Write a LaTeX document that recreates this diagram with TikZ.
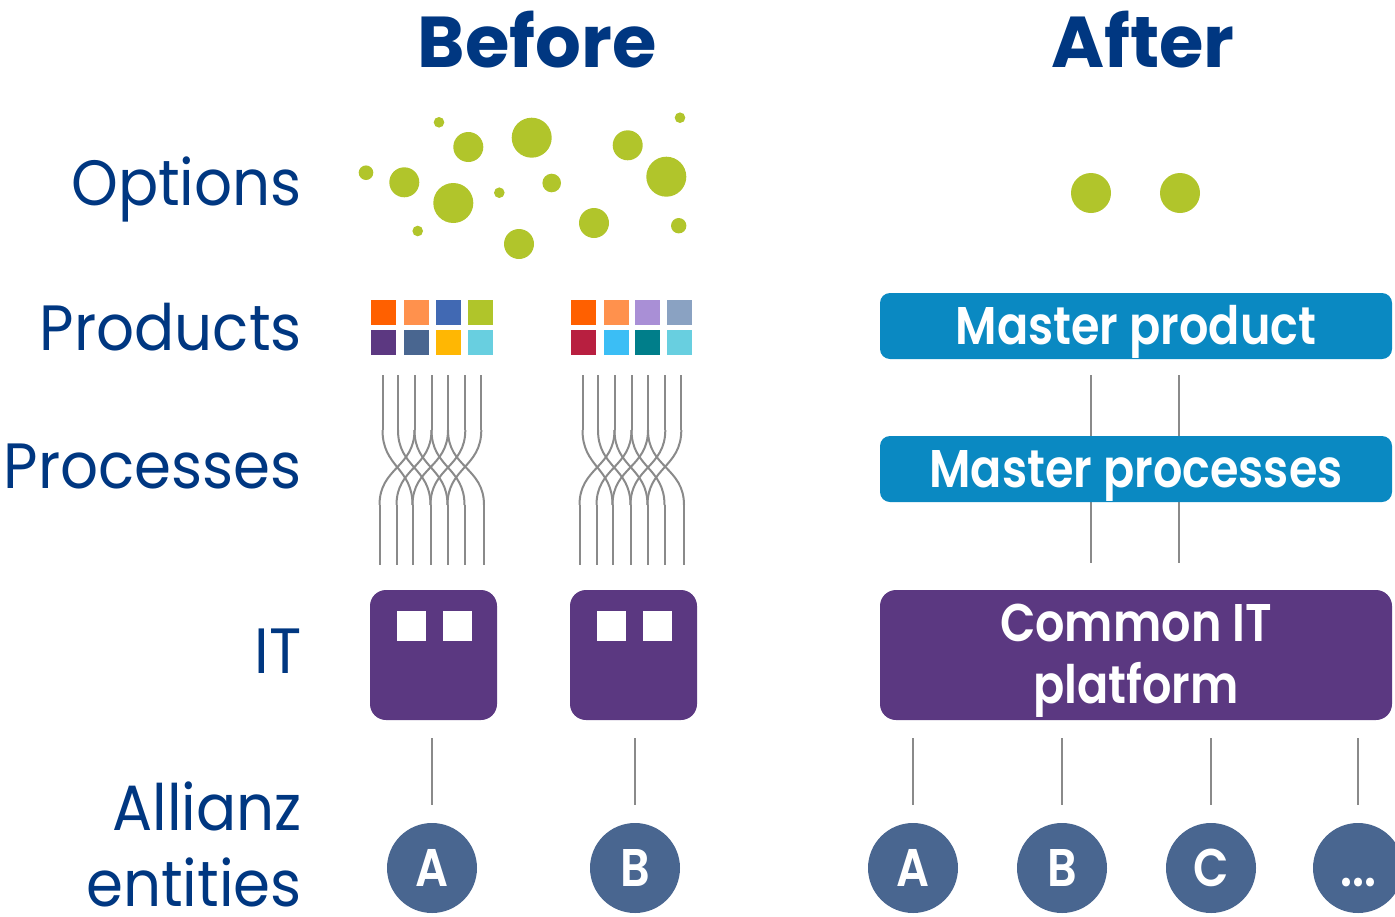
\documentclass[tikz,border=0pt]{standalone}
\usepackage{fontspec}
\setmainfont{Poppins}
\newfontfamily\lblfont[FakeStretch=0.93]{Poppins}
\IfFontExistsTF{Poppins SemiBold}
  {\newfontfamily\boxfont[FakeStretch=0.87]{Poppins SemiBold}}
  {\newfontfamily\boxfontbase[FakeStretch=0.85]{Poppins}\newcommand{\boxfont}{\boxfontbase\bfseries}}
\usetikzlibrary{backgrounds}
\definecolor{navy}{HTML}{003781}
\definecolor{lime}{HTML}{B1C52B}
\definecolor{azure}{HTML}{0A89C2}
\definecolor{plum}{HTML}{5B3881}
\definecolor{slate}{HTML}{496690}
\definecolor{wiregray}{HTML}{8A8A8A}
\definecolor{cA}{HTML}{FF6000}
\definecolor{cB}{HTML}{FF914D}
\definecolor{cC}{HTML}{4169B3}
\definecolor{cD}{HTML}{B0C52A}
\definecolor{cE}{HTML}{5C3881}
\definecolor{cF}{HTML}{496690}
\definecolor{cG}{HTML}{FFB703}
\definecolor{cH}{HTML}{68CFE0}
\definecolor{cI}{HTML}{A98FD6}
\definecolor{cJ}{HTML}{8AA2C2}
\definecolor{cK}{HTML}{B81F40}
\definecolor{cL}{HTML}{3BBEF5}
\definecolor{cM}{HTML}{007E8A}
% top positions T1..T7 and bottom positions B1..B7
\newcommand{\braidset}[1]{%
\begin{scope}[xshift=#1]
\foreach \x in {382.5,398,414.5,431.5,448,465.3,481.3} \draw[wire] (\x,375) -- (\x,430);
\foreach \x in {379.5,396.5,412.5,430.5,447.5,464.5,484} \draw[wire] (\x,505) -- (\x,565);
\foreach \a/\b in {382.5/412.5, 398/430.5, 414.5/447.5, 431.5/464.5, 448/484,
                   414.5/379.5, 431.5/396.5, 448/412.5, 465.3/430.5, 481.3/447.5}
  \draw[wire] (\a,430) .. controls (\a,467.5) and (\b,467.5) .. (\b,505);
\end{scope}}
\begin{document}
\begin{tikzpicture}[x=1pt,y=-1pt,
  lbl/.style={text=navy, font=\lblfont\fontsize{64}{66}\selectfont, anchor=base east, inner sep=0pt},
  hdr/.style={text=navy, font=\bfseries\fontsize{72}{74}\selectfont, anchor=base, inner sep=0pt},
  wire/.style={draw=wiregray, line width=2pt},
  conn/.style={draw=wiregray, line width=2.4pt},
  itbox/.style={fill=plum, rounded corners=16pt, minimum width=127pt, minimum height=130pt, inner sep=0pt},
  hole/.style={fill=white, minimum width=29pt, minimum height=30pt, inner sep=0pt},
  ent/.style={circle, fill=slate, minimum size=90pt, inner sep=0pt, text=white, font=\boxfont\fontsize{53}{53}\selectfont, text height=37pt, text depth=0pt},
  mbox/.style={fill=azure, rounded corners=10pt, minimum width=512pt, minimum height=66pt, inner sep=0pt, text=white, font=\boxfont\fontsize{53}{53}\selectfont, text height=37pt, text depth=0pt},
  btxt/.style={text=white, font=\boxfont\fontsize{53}{53}\selectfont, anchor=base, inner sep=0pt},
  dot/.style={fill=lime}]
\useasboundingbox (0,0) rectangle (1395,916);

% headers
\node[hdr] (hbefore) at (537,67) {Before};
\node[hdr] (hafter) at (1143,67) {After};

% row labels
\node[lbl] (lopt) at (302,205) {Options};
\node[lbl] (lprod) at (302,350) {Products};
\node[lbl] (lproc) at (302,488) {Processes};
\node[lbl] (lit) at (302,673) {IT};
\node[lbl] (lall) at (302,830) {Allianz};
\node[lbl, text depth=0pt] (lent) at (302,906) {entities};

% options (before)
\foreach \x/\y/\r in {366/172.7/7.3, 404.3/182.3/15, 439/122.3/5.3, 468.3/147/15, 453.3/203/20,
  531.7/137.7/20, 499.3/192.7/5.3, 551.7/183/9.3, 519/244/15, 627.7/145.3/15, 594/223/15,
  666.3/176.7/20, 680/117.7/5.3, 678.7/225.7/7.7, 417.7/231/5.3}
  \fill[dot] (\x,\y) circle (\r);
% options (after)
\fill[dot] (1091,193) circle (20);
\fill[dot] (1180,193) circle (20);

% products (before)
\foreach \x/\y/\c in {371/300/cA, 404/300/cB, 436/300/cC, 468/300/cD,
  371/330/cE, 404/330/cF, 436/330/cG, 468/330/cH,
  571/300/cA, 604/300/cB, 635/300/cI, 667/300/cJ,
  571/330/cK, 604/330/cL, 635/330/cM, 667/330/cH}
  \fill[\c] (\x,\y) rectangle ++(25,25);

% processes (before)
\braidset{0pt}
\braidset{200pt}

% IT (before)
\node[itbox] (it1) at (433.5,655) {};
\node[itbox] (it2) at (633.5,655) {};
\foreach \b in {it1,it2}{
  \node[hole] at ([xshift=-22pt,yshift=29pt]\b.center) {};
  \node[hole] at ([xshift=24pt,yshift=29pt]\b.center) {};
}

% entities (before)
\node[ent] (ba) at (432,868) {A};
\node[ent] (bb) at (635,868) {B};
\draw[conn, shorten <=18pt, shorten >=18pt] (ba |- it1.south) -- (ba.north);
\draw[conn, shorten <=18pt, shorten >=18pt] (bb |- it2.south) -- (bb.north);

% after column
\node[mbox] (mprod) at (1136,326) {Master product};
\node[mbox] (mproc) at (1136,469) {Master processes};
\node[itbox, minimum width=512pt] (cit) at (1136,655) {};
\node[btxt] (cit1) at (1136,641.5) {Common IT};
\node[btxt] (cit2) at (1136,703.3) {platform};
\coordinate (p1) at (1091,0);
\coordinate (p2) at (1179,0);
\begin{scope}[on background layer]
\foreach \p in {p1,p2}
  \draw[conn, shorten <=16pt, shorten >=27pt] (\p |- mprod.south) -- (\p |- cit.north);
\end{scope}

\node[ent] (aa) at (913,868) {A};
\node[ent] (ab) at (1062,868) {B};
\node[ent] (ac) at (1211,868) {C};
\node[ent] (ad) at (1358,868) {...};
\foreach \e in {aa,ab,ac,ad}
  \draw[conn, shorten <=18pt, shorten >=18pt] (\e |- cit.south) -- (\e.north);
\end{tikzpicture}
\end{document}
